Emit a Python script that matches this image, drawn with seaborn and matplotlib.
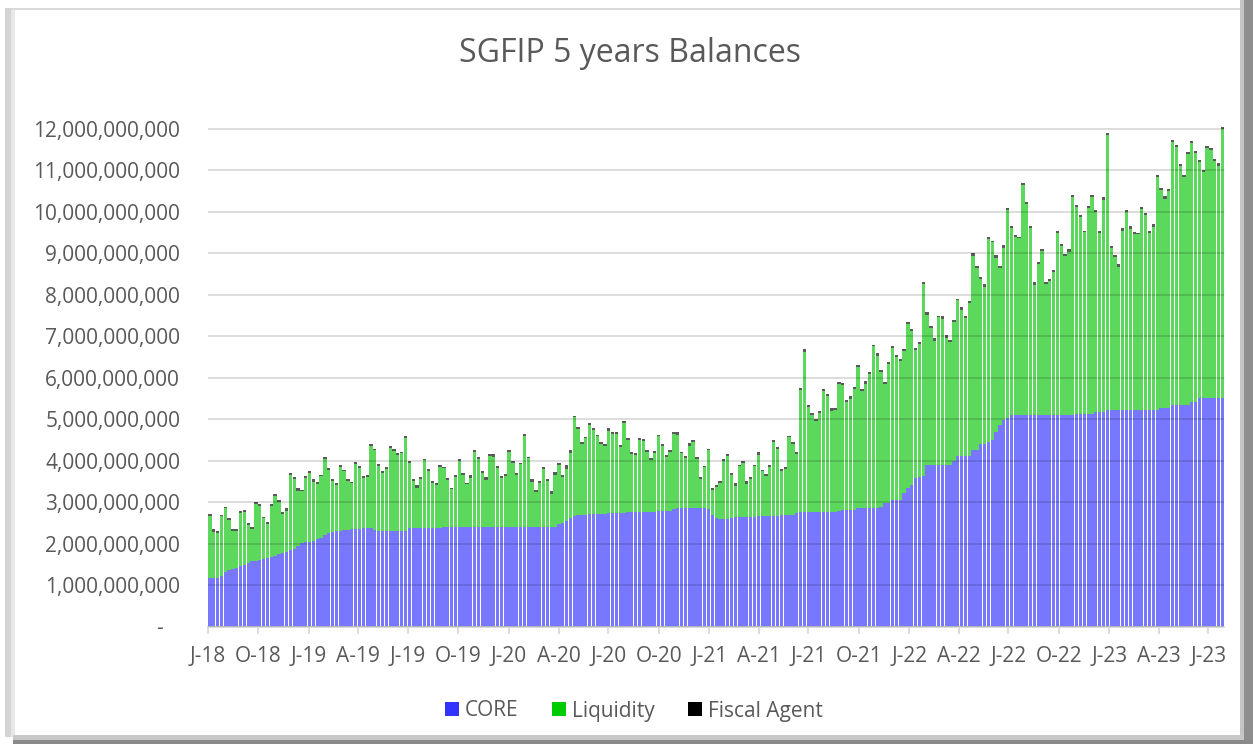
import numpy as np
import pandas as pd
import seaborn as sns
import matplotlib.pyplot as plt
from matplotlib.patches import Patch, Rectangle
from matplotlib.ticker import FuncFormatter

# weekly balances, Jul-2018 .. Aug-2023
# top of the stacked bar (CORE + Liquidity + Fiscal Agent), billions
total_bn = [
    2.72, 2.35, 2.30, 2.70, 2.88, 2.62, 2.35, 2.35, 2.78, 2.80, 2.49, 2.40, 3.00,
    2.95, 2.65, 2.53, 2.95, 3.20, 3.05, 2.75, 2.85, 3.70, 3.60, 3.33, 3.30, 3.62,
    3.74, 3.55, 3.48, 3.66, 4.09, 3.82, 3.55, 3.47, 3.90, 3.78, 3.55, 3.49, 3.97,
    3.87, 3.63, 3.66, 4.40, 4.29, 3.92,
    3.76, 3.85, 4.35, 4.28, 4.18, 4.21, 4.60, 4.00, 3.55, 3.41, 3.60, 4.05, 3.80,
    3.50, 3.45, 3.90, 3.85, 3.58, 3.35, 3.65, 4.05, 3.70, 3.47, 3.65, 4.25, 4.09,
    3.75, 3.60, 4.15, 4.15, 3.87, 3.63, 3.69, 4.25, 4.00, 3.70, 3.95, 4.65, 4.10,
    3.55, 3.29, 3.50, 3.85, 3.55,
    3.26, 3.73, 3.95, 3.65, 3.89, 4.25, 5.08, 4.80, 4.45, 4.58, 4.92, 4.78, 4.63,
    4.45, 4.40, 4.78, 4.68, 4.68, 4.38, 4.95, 4.55, 4.20, 4.18, 4.55, 4.53, 4.25,
    4.07, 4.23, 4.63, 4.40, 4.14, 4.25, 4.70, 4.68, 4.22, 4.12, 4.42, 4.50, 4.10,
    3.60, 3.88, 4.29, 3.35, 3.42,
    3.50, 4.05, 4.15, 3.70, 3.45, 3.90, 4.00, 3.50, 3.61, 3.90, 4.20, 3.78, 3.68,
    3.90, 4.50, 4.33, 3.80, 3.85, 4.60, 4.45, 4.20, 5.75, 6.70, 5.35, 5.14, 5.00,
    5.20, 5.74, 5.60, 5.26, 5.28, 5.90, 5.88, 5.46, 5.55, 5.78, 6.30, 5.72, 5.92,
    6.15, 6.80, 6.60, 6.18, 5.90, 6.38,
    6.76, 6.55, 6.45, 6.70, 7.35, 7.18, 6.72, 6.85, 8.30, 7.58, 7.25, 6.95, 7.50,
    7.48, 7.02, 6.90, 7.40, 7.91, 7.70, 7.50, 7.85, 9.00, 8.70, 8.43, 8.25, 9.40,
    9.31, 8.95, 8.70, 9.20, 10.10, 9.65, 9.45, 9.40, 10.70, 10.25, 9.65, 8.30, 8.80,
    9.10, 8.30, 8.39, 8.60, 9.55,
    9.22, 8.98, 9.10, 10.40, 10.17, 9.92, 9.55, 10.15, 10.40, 10.05, 9.55, 10.35, 11.90,
    9.18, 8.95, 8.74, 9.60, 10.05, 9.65, 9.52, 9.50, 10.13, 9.98, 9.55, 9.70, 10.90,
    10.58, 10.38, 10.55, 11.73, 11.62, 11.15, 10.90, 11.45, 11.70, 11.46, 11.25, 11.02, 11.60,
    11.55, 11.28, 11.17, 12.05,
]

# CORE, billions
core_bn = [
    1.16, 1.16, 1.16, 1.22, 1.32, 1.36, 1.38, 1.40, 1.46, 1.48, 1.52, 1.58, 1.58,
    1.60, 1.62, 1.66, 1.68, 1.70, 1.74, 1.78, 1.80, 1.84, 1.88, 1.94, 2.01, 2.03,
    2.05, 2.07, 2.10, 2.13, 2.20, 2.25, 2.28, 2.30, 2.31, 2.32, 2.33, 2.34, 2.35,
    2.36, 2.37, 2.37, 2.37, 2.32, 2.30,
    2.30, 2.30, 2.30, 2.30, 2.30, 2.30, 2.30, 2.37, 2.37, 2.37, 2.37, 2.37, 2.37,
    2.37, 2.37, 2.37, 2.39, 2.39, 2.39, 2.39, 2.39, 2.39, 2.39, 2.39, 2.39, 2.39,
    2.40, 2.40, 2.40, 2.40, 2.40, 2.40, 2.40, 2.40, 2.40, 2.40, 2.40, 2.41, 2.41,
    2.41, 2.41, 2.41, 2.41, 2.41,
    2.41, 2.41, 2.47, 2.50, 2.55, 2.62, 2.66, 2.69, 2.69, 2.70, 2.71, 2.71, 2.71,
    2.71, 2.72, 2.73, 2.73, 2.73, 2.73, 2.74, 2.76, 2.77, 2.77, 2.77, 2.77, 2.77,
    2.77, 2.77, 2.79, 2.79, 2.79, 2.79, 2.84, 2.85, 2.85, 2.85, 2.85, 2.85, 2.85,
    2.85, 2.85, 2.84, 2.69, 2.61,
    2.60, 2.60, 2.60, 2.62, 2.63, 2.63, 2.63, 2.63, 2.63, 2.64, 2.67, 2.67, 2.67,
    2.67, 2.67, 2.67, 2.68, 2.70, 2.70, 2.70, 2.74, 2.77, 2.77, 2.77, 2.77, 2.77,
    2.77, 2.77, 2.77, 2.77, 2.77, 2.78, 2.82, 2.82, 2.82, 2.82, 2.86, 2.87, 2.87,
    2.87, 2.87, 2.87, 2.88, 2.97, 2.99,
    3.05, 3.05, 3.05, 3.22, 3.35, 3.41, 3.58, 3.61, 3.63, 3.89, 3.89, 3.89, 3.89,
    3.89, 3.89, 3.89, 4.00, 4.11, 4.11, 4.11, 4.11, 4.25, 4.25, 4.41, 4.41, 4.45,
    4.49, 4.70, 4.85, 4.99, 5.02, 5.09, 5.09, 5.09, 5.09, 5.09, 5.09, 5.09, 5.09,
    5.09, 5.09, 5.09, 5.09, 5.09,
    5.10, 5.10, 5.10, 5.10, 5.12, 5.12, 5.12, 5.12, 5.12, 5.18, 5.18, 5.18, 5.22,
    5.22, 5.22, 5.22, 5.22, 5.22, 5.22, 5.22, 5.22, 5.22, 5.22, 5.22, 5.22, 5.22,
    5.26, 5.26, 5.26, 5.34, 5.34, 5.34, 5.34, 5.34, 5.42, 5.42, 5.50, 5.50, 5.50,
    5.50, 5.50, 5.50, 5.50,
]

# Fiscal Agent, millions (thin dark caps)
fiscal_mn = [
    45, 60, 35, 40, 30, 55, 40, 35, 50, 45, 30, 40, 55,
    40, 35, 50, 45, 60, 40, 35, 70, 45, 40, 55, 35, 50,
    45, 60, 40, 35, 55, 45, 40, 50, 60, 35, 45, 40, 55,
    50, 40, 65, 45, 35, 40, 55, 60, 45, 40, 50, 35, 45,
    55, 40, 60, 45, 35, 50, 40, 45, 60, 35, 50, 45, 40,
    55, 45, 40, 60, 35, 50, 45, 70, 40, 55, 35, 45, 50,
    40, 60, 45, 35, 55, 40, 65, 50, 45, 40, 35, 60, 70,
    45, 40, 80, 55, 35, 45, 50, 40, 60, 45, 35, 50, 40,
    55, 45, 40, 60, 35, 50, 45, 40, 55, 60, 35, 45, 50,
    40, 55, 45, 35, 60, 50, 40, 45, 70, 55, 60, 45, 40,
    35, 50, 45, 40, 55, 35, 45, 60, 40, 50, 65, 45, 40,
    55, 35, 45, 50, 60, 40, 45, 55, 35, 50, 45, 40, 90,
    60, 45, 50, 40, 55, 45, 60, 50, 40, 45, 55, 60, 40,
    50, 45, 60, 55, 40, 65, 50, 45, 55, 40, 60, 45, 50,
    55, 45, 60, 40, 50, 65, 45, 55, 40, 60, 50, 45, 55,
    40, 60, 50, 45, 55, 65, 45, 50, 60, 40, 55, 45, 60,
    50, 45, 55, 40, 60, 50, 45, 65, 55, 40, 50, 60, 45,
    55, 40, 50, 60, 45, 55, 50, 40, 60, 45, 55, 50, 65,
    45, 55, 40, 60, 50, 45, 55, 60, 40, 50, 45, 55, 60,
    50, 45, 60, 40, 55, 50, 45, 60, 55, 40, 50, 45, 55,
    60, 45, 50, 55, 40,
]

series_names = ['CORE', 'Liquidity', 'Fiscal Agent']
legend_colors = ['#3333FF', '#00CC00', '#000000']
bar_colors = ['#7878FF', '#5CD85C', '#5A5A5A']
text_color = '#595959'

weeks = pd.date_range('2018-07-01', periods=len(total_bn), freq='7D')
quarters = pd.date_range('2018-07-01', '2023-07-01', freq='QS')
quarter_labels = [q.strftime('%b')[0] + '-' + q.strftime('%y') for q in quarters]

df = pd.DataFrame({
    'week': weeks,
    'CORE': np.array(core_bn) * 1e9,
    'Fiscal Agent': np.array(fiscal_mn) * 1e6,
})
df['Liquidity'] = np.array(total_bn) * 1e9 - df['CORE'] - df['Fiscal Agent']
df['pos'] = np.arange(len(df))
# cumulative tops, drawn back to front to get the stack
df['top_fiscal'] = df['CORE'] + df['Liquidity'] + df['Fiscal Agent']
df['top_liq'] = df['CORE'] + df['Liquidity']

sns.set_theme(style='white')
plt.rcParams['font.family'] = ['Open Sans', 'DejaVu Sans']

W, H = 1253, 744
fig = plt.figure(figsize=(W / 100, H / 100), dpi=100)

# bevelled frame around the chart
frame = fig.add_axes([0, 0, 1, 1])
frame.set_xlim(0, W)
frame.set_ylim(H, 0)
frame.axis('off')
frame.add_patch(Rectangle((5, 8), 1238, 2, color='#D9D9D9', lw=0))
frame.add_patch(Rectangle((5, 8), 6, 729, color='#D4D4D4', lw=0))
frame.add_patch(Rectangle((11, 10), 4, 727, color='#E8E8E8', lw=0))
frame.add_patch(Rectangle((1240, 0), 4, H, color='#C4C4C4', lw=0))
frame.add_patch(Rectangle((1244, 0), 9, H, color='#8E8E8E', lw=0))
frame.add_patch(Rectangle((13, 735), 1231, 5, color='#C8C8C8', lw=0))
frame.add_patch(Rectangle((13, 740), 1240, 4, color='#8A8A8A', lw=0))

n = len(df)
ymax = 12.3e9
ax_h = 41.46 * 12.3
ax = fig.add_axes([208 / W, (H - 626.5) / H, (1224.3 - 208) / W, ax_h / H])
ax.patch.set_alpha(0)

for col, colr in zip(['top_fiscal', 'top_liq', 'CORE'], bar_colors[::-1]):
    sns.barplot(data=df, x='pos', y=col, color=colr, saturation=1, width=0.86,
                errorbar=None, linewidth=0, ax=ax)

ax.set_ylim(0, ymax)
ax.set_xlim(-0.5, n - 0.5)
ax.set_yticks(np.arange(0, 12.01e9, 1e9))
ax.yaxis.set_major_formatter(FuncFormatter(lambda v, p: '-   ' if v == 0 else f'{v:,.0f}'))

tick_pos = [(q - weeks[0]).days / 7 - 0.5 for q in quarters]
ax.set_xticks(tick_pos)
ax.set_xticklabels(quarter_labels)

ax.set_xlabel('')
ax.set_ylabel('')
ax.set_axisbelow(False)
ax.yaxis.grid(True, color='black', alpha=0.15, linewidth=1.3)
ax.xaxis.grid(False)
for s in ['top', 'right', 'left']:
    ax.spines[s].set_visible(False)
ax.spines['bottom'].set_color('#D9D9D9')
ax.spines['bottom'].set_linewidth(1.3)
ax.tick_params(axis='x', length=5, width=1.3, color='#D9D9D9', pad=9,
               labelsize=15, labelcolor=text_color, bottom=True)
ax.tick_params(axis='y', length=0, pad=20, labelsize=15, labelcolor=text_color)

fig.text(630 / W, 1 - 53 / H, 'SGFIP 5 years Balances', ha='center', va='center',
         fontsize=23, color=text_color)

handles = [Patch(facecolor=c, edgecolor='none', label=l) for l, c in zip(series_names, legend_colors)]
fig.legend(handles=handles, loc='center', bbox_to_anchor=(634 / W, 1 - 711 / H), ncol=3,
           frameon=False, fontsize=15, labelcolor=text_color, handlelength=0.65,
           handleheight=0.65, handletextpad=0.3, columnspacing=1.6)

fig.savefig('out.png', dpi=100)
